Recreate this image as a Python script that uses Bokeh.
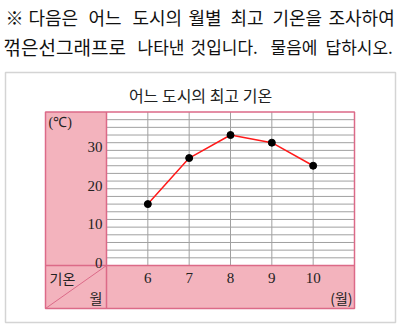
from bokeh.plotting import figure
from bokeh.models import Range1d
from bokeh.core.properties import value
from bokeh.embed import file_html
from bokeh.resources import INLINE

# ---------------- data ----------------
months = [6, 7, 8, 9, 10]
temps = [16, 28, 34, 32, 26]
month_labels = ["6", "7", "8", "9", "10"]
y_ticks = [0, 10, 20, 30]
y_tick_labels = ["0", "10", "20", "30"]
y_grid = list(range(2, 40, 2))
title = "어느 도시의 최고 기온"
header1 = ["※", "다음은", "어느", "도시의", "월별", "최고", "기온을", "조사하여"]
header2 = ["꺾은선그래프로", "나타낸", "것입니다.", "물음에", "답하시오."]

# ---------------- layout (pixels) ----------------
W, H = 400, 325
GX0, GX1 = 106, 354     # grid left/right in px  (x = 5 .. 11)
GY0, GY1 = 265, 111.5   # grid bottom/top in px  (y = 0 .. 40)
XMIN, XMAX, YMIN, YMAX = 5, 11, 0, 40
sx = (GX1 - GX0) / (XMAX - XMIN)
sy = (GY0 - GY1) / (YMAX - YMIN)

def dx(px):
    return XMIN + (px - GX0) / sx

def dy(py):
    return YMIN + (GY0 - py) / sy

p = figure(width=W, height=H, output_backend="svg", toolbar_location=None,
           x_range=Range1d(dx(0), dx(W)), y_range=Range1d(dy(H), dy(0)),
           min_border=0, outline_line_color=None)
p.axis.visible = False
p.grid.visible = False
p.background_fill_color = "white"
p.border_fill_color = "white"

PINK = "#f3b3bd"
PINK_LINE = "#dc6a88"
GRID = "#a0a0a0"
KR = value("Noto Sans CJK KR")
SERIF = value("Liberation Serif")

# outer light box
p.quad(left=[dx(5)], right=[dx(395)], bottom=[dy(322)], top=[dy(72)],
       fill_color=None, line_color="#d4d4d4", line_width=1.5)

# header words (justified lines)
h1_x = [5, 28, 88, 132, 188, 230, 272, 328]
h2_x = [3, 137, 190, 270, 325]
p.text(x=[dx(v) for v in h1_x], y=[dy(16)] * len(header1), text=header1,
       text_font=KR, text_font_size="18px",
       text_color="#111111", text_baseline="middle", text_align="left")
p.text(x=[dx(v) for v in h2_x[:1]], y=[dy(46)], text=header2[:1],
       text_font=KR, text_font_size="19px",
       text_color="#111111", text_baseline="middle", text_align="left")
p.text(x=[dx(v) for v in h2_x[1:]], y=[dy(46)] * (len(header2) - 1), text=header2[1:],
       text_font=KR, text_font_size="17px",
       text_color="#111111", text_baseline="middle", text_align="left")

# chart title
p.text(x=[dx(200)], y=[dy(94)], text=[title], text_font=KR, text_font_size="16px",
       text_color="#222222", text_baseline="middle", text_align="center")

# pink panels
p.quad(left=[dx(45)], right=[XMIN], bottom=[dy(308)], top=[YMAX],
       fill_color=PINK, line_color=None)
p.quad(left=[XMIN], right=[XMAX], bottom=[dy(308)], top=[YMIN],
       fill_color=PINK, line_color=None)

# grid
p.segment(x0=[XMIN] * len(y_grid), x1=[XMAX] * len(y_grid), y0=y_grid, y1=y_grid,
          line_color=GRID, line_width=1)
p.segment(x0=months, x1=months, y0=[YMIN] * len(months), y1=[YMAX] * len(months),
          line_color=GRID, line_width=1)

# pink frame lines
p.quad(left=[dx(45)], right=[XMAX], bottom=[dy(308)], top=[YMAX],
       fill_color=None, line_color=PINK_LINE, line_width=1.5)
p.segment(x0=[XMIN], x1=[XMIN], y0=[dy(308)], y1=[YMAX], line_color=PINK_LINE, line_width=1.5)
p.segment(x0=[dx(45)], x1=[XMAX], y0=[YMIN], y1=[YMIN], line_color=PINK_LINE, line_width=1.5)
p.segment(x0=[dx(45)], x1=[XMIN], y0=[dy(308)], y1=[YMIN], line_color=PINK_LINE, line_width=1)

# y tick labels
p.text(x=[dx(102)] * len(y_ticks), y=[t + dy(262) - dy(265) for t in y_ticks],
       text=y_tick_labels, text_font=SERIF, text_font_size="15px",
       text_color="#222222", text_baseline="middle", text_align="right")
p.text(x=[dx(48)], y=[dy(122)], text=["(℃)"], text_font=SERIF, text_font_size="14px",
       text_color="#222222", text_baseline="middle", text_align="left")

# x tick labels
p.text(x=months, y=[dy(277)] * len(months), text=month_labels, text_font=SERIF,
       text_font_size="15px", text_color="#222222", text_baseline="middle", text_align="center")
p.text(x=[dx(49)], y=[dy(277.5)], text=["기온"], text_font=KR, text_font_size="14px",
       text_color="#222222", text_baseline="middle", text_align="left")
p.text(x=[dx(102)], y=[dy(297.5)], text=["월"], text_font=KR, text_font_size="14px",
       text_color="#222222", text_baseline="middle", text_align="right")
p.text(x=[dx(352)], y=[dy(297)], text=["(월)"], text_font=KR, text_font_size="14px",
       text_color="#222222", text_baseline="middle", text_align="right")

# data line
p.line(months, temps, line_color="#ff1a1a", line_width=1.5)
p.scatter(months, temps, size=7, fill_color="black", line_color="black")

open("out.html", "w").write(file_html(p, INLINE))
